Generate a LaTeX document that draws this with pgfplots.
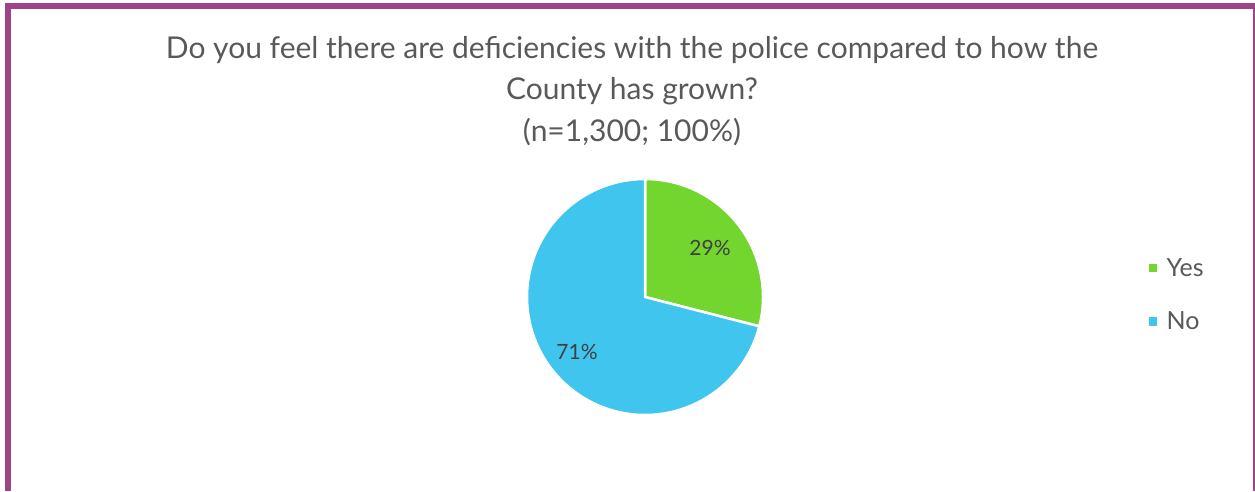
\documentclass[border=0pt]{standalone}
\usepackage{pgfplots}
\pgfplotsset{compat=1.18}
\usepackage{fontspec}
\setmainfont{Lato}
\definecolor{framec}{HTML}{9F4388}
\definecolor{yesc}{HTML}{72D62E}
\definecolor{noc}{HTML}{40C5EE}
\definecolor{titlec}{HTML}{595959}
\definecolor{labc}{HTML}{404040}
\begin{document}
\begin{tikzpicture}
\begin{axis}[width=1255pt,height=491pt,scale only axis,
  xmin=0,xmax=1255,ymin=0,ymax=491,hide axis,clip=false,
  legend style={at={(axis cs:1143,237)},anchor=north west,draw=none,fill=none,
    font=\fontsize{25}{29}\selectfont,text=titlec,row sep=30pt,
    legend cell align=left},
  legend image code/.code={\fill[#1] (0pt,-5.5pt) rectangle (11pt,5.5pt);}]
\addplot[fill=yesc,draw=white,line width=2.5pt,domain=90:-14.4,samples=80,variable=\t]
  ({645+118*cos(t)},{194+118*sin(t)}) -- (axis cs:645,194) -- cycle;
\addlegendentry{\hspace{5pt}Yes}
\addplot[fill=noc,draw=white,line width=2.5pt,domain=-14.4:-270,samples=160,variable=\t]
  ({645+118*cos(t)},{194+118*sin(t)}) -- (axis cs:645,194) -- cycle;
\addlegendentry{\hspace{5pt}No}
\node[font=\fontsize{21}{25}\selectfont,text=labc] at (axis cs:710,243) {29\%};
\node[font=\fontsize{21}{25}\selectfont,text=labc] at (axis cs:577,139) {71\%};
\node[font=\fontsize{30}{41.5}\selectfont,text=titlec,align=center] at (axis cs:632,400)
  {Do you feel there are deficiencies with the police compared to how the\\County has grown?\\(n=1,300; 100\%)};
\draw[framec,line width=6pt] (axis cs:8,0) -- (axis cs:8,485) -- (axis cs:1256,485) -- (axis cs:1256,0);
\end{axis}
\pgfresetboundingbox
\path[use as bounding box] (0,0) rectangle (1255pt,491pt);
\end{tikzpicture}
\end{document}
